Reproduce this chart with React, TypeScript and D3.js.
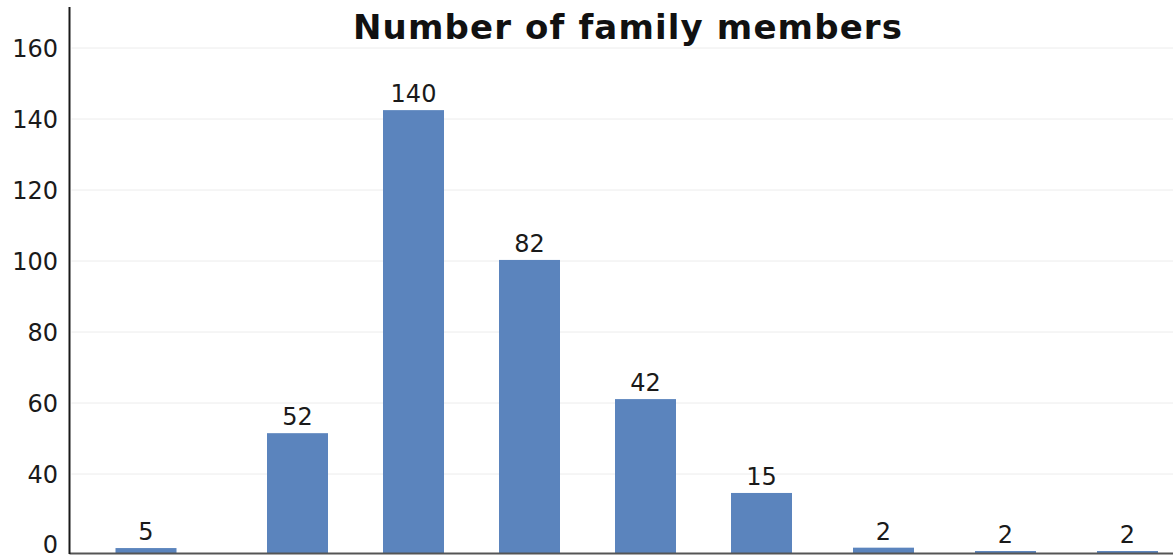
import React from "react";
import * as d3 from "d3";

// Data
const categories = [1, 2, 3, 4, 5, 6, 7, 8, 9];
const barValues = [2.5, 51.5, 142.5, 100.3, 61.1, 30.4, 2.7, 1.0, 1.0];
const barLabels = ["5", "52", "140", "82", "42", "15", "2", "2", "2"];
const yTicks = [0, 40, 60, 80, 100, 120, 140, 160];
const title = "Number of family members";

const W = 1173;
const H = 558;

export default function App() {
  // the reference axis is uneven, so piecewise scales reproduce it
  const x = d3.scaleLinear().domain([1, 2, 6, 9]).range([146, 297.5, 761.5, 1127.5]);
  const y = d3.scaleLinear().domain([0, 40, 160, 171.5]).range([553, 474, 48, 7]);
  const barW = 61;
  const axisX = 69.5;

  return (
    <svg
      width={W}
      height={H}
      style={{ position: "absolute", left: 0, top: 0, background: "#fff" }}
    >
      {/* gridlines */}
      {yTicks.filter((t) => t > 0).map((t) => (
        <line key={"g" + t} x1={axisX + 2} x2={W} y1={y(t)} y2={y(t)} stroke="#ececec" strokeWidth={1} />
      ))}
      {/* tick labels */}
      {yTicks.map((t) => (
        <text
          key={"t" + t}
          x={58}
          y={t === 0 ? 553 : y(t) + 8.5}
          textAnchor="end"
          fontFamily="DejaVu Sans"
          fontSize={24}
          fill="#1a1a1a"
        >
          {t}
        </text>
      ))}
      {/* bars */}
      {categories.map((c, i) => (
        <rect
          key={"b" + c}
          x={x(c) - barW / 2}
          y={y(barValues[i])}
          width={barW}
          height={y(0) - y(barValues[i])}
          fill="#5b84bd"
        />
      ))}
      {/* data labels */}
      {categories.map((c, i) => (
        <text
          key={"l" + c}
          x={x(c)}
          y={y(barValues[i]) - 8}
          textAnchor="middle"
          fontFamily="DejaVu Sans"
          fontSize={24}
          fill="#1a1a1a"
        >
          {barLabels[i]}
        </text>
      ))}
      {/* axes */}
      <line x1={axisX} x2={W} y1={y(0) + 0.5} y2={y(0) + 0.5} stroke="#555" strokeWidth={2} />
      <line x1={axisX} x2={axisX} y1={y(171.5)} y2={y(0) + 1} stroke="#1a1a1a" strokeWidth={2} />
      {/* title */}
      <text
        x={627.5}
        y={39}
        textAnchor="middle"
        fontFamily="DejaVu Sans"
        fontWeight={700}
        fontSize={34}
        textLength={549}
        fill="#111"
      >
        {title}
      </text>
    </svg>
  );
}
